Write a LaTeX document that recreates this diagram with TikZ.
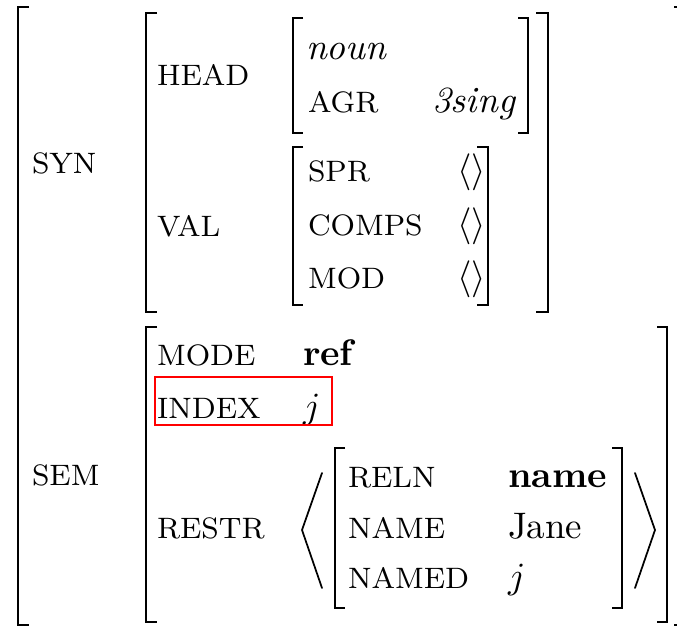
\documentclass[tikz,border=0pt]{standalone}
% text is set at design size and then enlarged as a whole
\newcommand{\avmtext}[1]{\scalebox{2.77}{#1}}
\newcommand{\attr}[1]{\scalebox{2.77}{\fontsize{8}{10}\selectfont #1}}
\begin{document}
\begin{tikzpicture}[
  x=0.75pt, y=-0.75pt,
  brk/.style={line width=1.9pt, line cap=butt, line join=miter},
  ang/.style={line width=1.3pt, line cap=round},
  txt/.style={inner sep=0pt, outer sep=0pt, anchor=base west,
              font=\fontsize{10}{12}\selectfont},
  hilite/.style={draw=red, line width=1.4pt}
]
\useasboundingbox (0,0) rectangle (677,627);

% outer matrix
\draw[brk] (29,7) -- (18,7) -- (18,625) -- (29,625);
\draw[brk] (674,7) -- (681,7) -- (681,625) -- (674,625);

% SYN value
\draw[brk] (157,13) -- (146,13) -- (146,312) -- (157,312);
\draw[brk] (536,13) -- (548,13) -- (548,312) -- (536,312);
% HEAD value
\draw[brk] (303,18) -- (293,18) -- (293,133) -- (303,133);
\draw[brk] (518,18) -- (528,18) -- (528,133) -- (518,133);
% VAL value
\draw[brk] (303,147) -- (293,147) -- (293,305) -- (303,305);
\draw[brk] (477,147) -- (488,147) -- (488,305) -- (477,305);

% SEM value
\draw[brk] (157,327) -- (146,327) -- (146,622) -- (157,622);
\draw[brk] (657,327) -- (667,327) -- (667,622) -- (657,622);
% RESTR element
\draw[brk] (345,448) -- (335,448) -- (335,608) -- (345,608);
\draw[brk] (612,448) -- (622,448) -- (622,608) -- (612,608);
% list angles
\draw[ang] (322,473) -- (302,530) -- (322,588);
\draw[ang] (635,473) -- (655,530) -- (635,588);

% attributes and values
\node[txt] (syn)   at (32,174)  {\attr{SYN}};
\node[txt] (head)  at (157,86)  {\attr{HEAD}};
\node[txt] (val)   at (157,236) {\attr{VAL}};
\node[txt] (noun)  at (306,60)  {\avmtext{\textit{noun}}};
\node[txt] (agr)   at (308,113) {\attr{AGR}};
\node[txt] (sing)  at (432,113) {\avmtext{\textit{3sing}}};
\node[txt] (spr)   at (308,182) {\attr{SPR}};
\node[txt] (sprv)  at (457,182) {\avmtext{$\langle\rangle$}};
\node[txt] (comps) at (308,235) {\attr{COMPS}};
\node[txt] (compsv) at (457,235) {\avmtext{$\langle\rangle$}};
\node[txt] (mod)   at (308,288) {\attr{MOD}};
\node[txt] (modv)  at (457,288) {\avmtext{$\langle\rangle$}};

\node[txt] (sem)   at (32,485)  {\attr{SEM}};
\node[txt] (mode)  at (157,365) {\attr{MODE}};
\node[txt] (ref)   at (303,365) {\avmtext{\textbf{ref}}};
\node[txt] (index) at (157,418) {\attr{INDEX}};
\node[txt] (indv)  at (303,418) {\avmtext{$j$}};
\node[txt] (restr) at (157,538) {\attr{RESTR}};
\node[txt] (reln)  at (348,487) {\attr{RELN}};
\node[txt] (relnv) at (508,487) {\avmtext{\textbf{name}}};
\node[txt] (name)  at (348,538) {\attr{NAME}};
\node[txt] (namev) at (508,538) {\avmtext{Jane}};
\node[txt] (named) at (348,588) {\attr{NAMED}};
\node[txt] (namedv) at (508,588) {\avmtext{$j$}};

% highlight box
\draw[hilite] (155,377) rectangle (332,425);
\end{tikzpicture}
\end{document}
